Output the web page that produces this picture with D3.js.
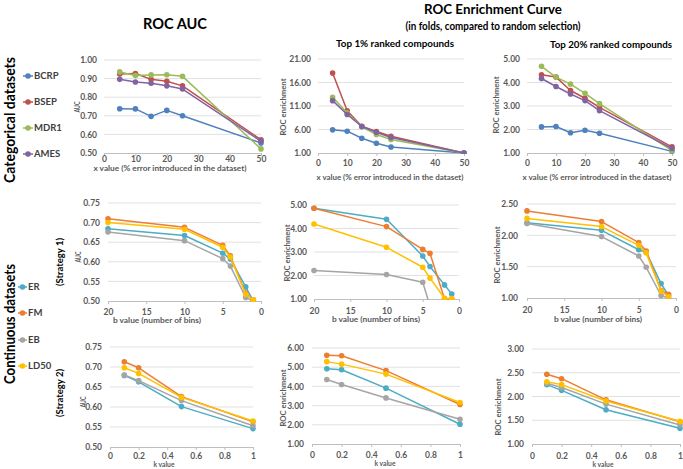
<!DOCTYPE html>
<html><head><meta charset="utf-8">
<script src="https://cdn.jsdelivr.net/npm/d3@7"></script>
<style>
body{margin:0;background:#fff}
svg{display:block;font-family:Lato,"Open Sans",sans-serif;font-weight:bold}
</style></head><body>
<svg id="c" width="683" height="469"></svg>
<script>
// ---------- data ----------
const errorPct = [5, 10, 15, 20, 25, 50];
const bins = [20, 10, 5, 4, 2, 1];
const kVals = [0.1, 0.2, 0.5, 1];
const catNames = ["BCRP", "BSEP", "MDR1", "AMES"];
const contNames = ["ER", "FM", "EB", "LD50"];
const catColors = ["#4F81BD", "#C0504D", "#9BBB59", "#8064A2"];
const contColors = ["#4BACC6", "#ED7D31", "#A5A5A5", "#FFC000"];

const catAUC = [
  [0.738, 0.737, 0.697, 0.729, 0.700, 0.554],
  [0.925, 0.927, 0.896, 0.886, 0.861, 0.571],
  [0.936, 0.917, 0.920, 0.921, 0.912, 0.522],
  [0.896, 0.882, 0.875, 0.861, 0.844, 0.563]];
const catTop1 = [
  [5.93, 5.64, 4.14, 3.07, 2.29, 1.00],
  [18.0, 10.0, 6.70, 5.57, 4.57, 1.00],
  [12.86, 9.57, 6.57, 4.93, 3.86, 1.00],
  [12.14, 9.20, 6.64, 5.43, 4.30, 1.00]];
const catTop20 = [
  [2.11, 2.13, 1.86, 1.97, 1.84, 1.07],
  [4.33, 4.23, 3.66, 3.33, 2.94, 1.26],
  [4.69, 4.23, 3.93, 3.54, 3.10, 1.10],
  [4.17, 3.83, 3.51, 3.23, 2.80, 1.19]];
const s1AUC = [
  [0.684, 0.667, 0.622, 0.607, 0.536, 0.500],
  [0.710, 0.688, 0.642, 0.615, 0.520, 0.503],
  [0.676, 0.654, 0.608, 0.589, 0.509, 0.500],
  [0.700, 0.683, 0.637, 0.612, 0.517, 0.503]];
const s1Top1 = [
  [4.86, 4.39, 2.83, 2.38, 1.60, 1.21],
  [4.86, 4.08, 3.11, 2.94, 1.01, 1.01],
  [2.21, 2.04, 1.71, 0.70, 0.60, 0.60],
  [4.19, 3.20, 2.35, 1.89, 1.03, 1.02]];
const s1Top20 = [
  [2.20, 2.08, 1.77, 1.73, 1.23, 1.04],
  [2.39, 2.22, 1.885, 1.75, 1.12, 1.06],
  [2.19, 1.98, 1.67, 1.49, 1.04, 1.00],
  [2.27, 2.14, 1.84, 1.72, 1.11, 1.02]];
const s2AUC = [
  [0.679, 0.663, 0.601, 0.546],
  [0.713, 0.698, 0.626, 0.563],
  [0.680, 0.666, 0.616, 0.553],
  [0.698, 0.684, 0.624, 0.565]];
const s2Top1 = [
  [4.92, 4.87, 3.91, 2.03],
  [5.62, 5.60, 4.82, 3.06],
  [4.36, 4.10, 3.40, 2.29],
  [5.29, 5.16, 4.64, 3.16]];
const s2Top20 = [
  [2.25, 2.13, 1.72, 1.33],
  [2.47, 2.375, 1.93, 1.47],
  [2.28, 2.19, 1.84, 1.40],
  [2.31, 2.25, 1.905, 1.477]];

// tick labels
const errTicks = [0, 10, 20, 30, 40, 50];
const binTicks = [20, 15, 10, 5, 0];
const kTicks = [0, 0.2, 0.4, 0.6, 0.8, 1];
const catAUCTicks = [0.5, 0.6, 0.7, 0.8, 0.9, 1.0];
const catTop1Ticks = [1, 6, 11, 16, 21];
const catTop20Ticks = [1, 2, 3, 4, 5];
const contAUCTicks = [0.5, 0.55, 0.6, 0.65, 0.7, 0.75];
const s1Top1Ticks = [1, 2, 3, 4, 5];
const s1Top20Ticks = [1, 1.5, 2, 2.5];
const s2Top1Ticks = [1, 2, 3, 4, 5, 6];
const s2Top20Ticks = [1, 1.5, 2, 2.5, 3];

// ---------- drawing ----------
const svg = d3.select("#c");
svg.append("rect").attr("width", 683).attr("height", 469).attr("fill", "#fff");
let clipId = 0;

function panel(p) {
  const g = svg.append("g");
  const x = d3.scaleLinear().domain(p.xd).range([p.x0, p.x1]);
  const y = d3.scaleLinear().domain([p.yt[0], p.yt[p.yt.length - 1]]).range([p.yb, p.ytop]);

  // gridlines
  g.append("g").selectAll("line").data(p.yt.slice(1)).join("line")
    .attr("x1", p.x0).attr("x2", p.x1)
    .attr("y1", d => y(d)).attr("y2", d => y(d))
    .attr("stroke", "#D9D9D9").attr("stroke-width", 0.8);

  // y axis labels
  const ya = g.append("g").attr("transform", `translate(${p.ylr},0)`)
    .call(d3.axisLeft(y).tickValues(p.yt).tickFormat(d3.format(".2f")).tickSize(0).tickPadding(0));
  ya.select(".domain").remove();
  ya.selectAll("text").attr("font-size", 8.5).attr("fill", "#595959")
    .attr("font-family", "Lato, sans-serif").attr("font-weight", "bold");

  // x axis
  const xa = g.append("g").attr("transform", `translate(0,${p.yb})`)
    .call(d3.axisBottom(x).tickValues(p.xt).tickFormat(d3.format("~g")).tickSizeInner(3).tickSizeOuter(0));
  xa.select(".domain").attr("stroke", "#BFBFBF").attr("stroke-width", 1);
  xa.selectAll(".tick line").attr("stroke", "#BFBFBF");
  xa.selectAll("text").attr("y", p.xly - p.yb).attr("dy", "0.35em")
    .attr("font-size", 8.5).attr("fill", "#595959")
    .attr("font-family", "Lato, sans-serif").attr("font-weight", "bold");

  // titles
  g.append("text").attr("x", p.xtc).attr("y", p.xty).attr("dy", "0.35em")
    .attr("text-anchor", "middle").attr("font-size", 7.5).attr("fill", "#595959")
    .attr("textLength", p.xtl).attr("lengthAdjust", "spacingAndGlyphs").text(p.xTitle);
  g.append("text").attr("transform", `translate(${p.ytx},${p.ytc}) rotate(-90)`).attr("dy", "0.35em")
    .attr("text-anchor", "middle").attr("font-size", 7.5).attr("fill", "#595959")
    .attr("textLength", p.ytl).attr("lengthAdjust", "spacingAndGlyphs").text(p.yTitle);

  // clip
  const id = "clip" + (clipId++);
  g.append("clipPath").attr("id", id).append("rect")
    .attr("x", p.x0 - 6).attr("y", p.ytop - 6)
    .attr("width", p.x1 - p.x0 + 12).attr("height", p.yb - p.ytop + 7);

  const line = d3.line().x((d, i) => x(p.xs[i])).y(d => y(d));
  const lo = p.yt[0] - 1e-9;
  p.series.forEach((vals, si) => {
    const sg = g.append("g").attr("clip-path", `url(#${id})`);
    sg.append("path").attr("d", line(vals)).attr("fill", "none")
      .attr("stroke", p.colors[si]).attr("stroke-width", 1.5).attr("stroke-linejoin", "round");
    sg.selectAll("circle").data(vals.map((v, i) => [p.xs[i], v]).filter(d => d[1] >= lo))
      .join("circle").attr("cx", d => x(d[0])).attr("cy", d => y(d[1])).attr("r", 2.8)
      .attr("fill", p.colors[si]);
  });
}

const xErrTitle = "x value (% error introduced in the dataset)";
const bTitle = "b value (number of bins)";
const kTitle = "k value";

panel({xd:[0,50], x0:104, x1:261, ytop:60, yb:153, xt:errTicks, yt:catAUCTicks, xs:errorPct,
  series:catAUC, colors:catColors, ylr:97, xly:159, xTitle:xErrTitle, xtc:170, xty:168, xtl:153,
  yTitle:"AUC", ytx:77, ytc:107, ytl:11});
panel({xd:[0,50], x0:318, x1:464, ytop:59, yb:153, xt:errTicks, yt:catTop1Ticks, xs:errorPct,
  series:catTop1, colors:catColors, ylr:311, xly:163, xTitle:xErrTitle, xtc:390, xty:177, xtl:147,
  yTitle:"ROC enrichment", ytx:283, ytc:107, ytl:57});
panel({xd:[0,50], x0:527, x1:672, ytop:59, yb:153, xt:errTicks, yt:catTop20Ticks, xs:errorPct,
  series:catTop20, colors:catColors, ylr:520, xly:163, xTitle:xErrTitle, xtc:597, xty:177, xtl:149,
  yTitle:"ROC enrichment", ytx:496, ytc:105, ytl:57});

panel({xd:[20,0], x0:108, x1:261, ytop:203, yb:301, xt:binTicks, yt:contAUCTicks, xs:bins,
  series:s1AUC, colors:contColors, ylr:100, xly:312, xTitle:bTitle, xtc:157, xty:320, xtl:88,
  yTitle:"AUC", ytx:78, ytc:257, ytl:11});
panel({xd:[20,0], x0:314, x1:459, ytop:205, yb:299, xt:binTicks, yt:s1Top1Ticks, xs:bins,
  series:s1Top1, colors:contColors, ylr:307, xly:311, xTitle:bTitle, xtc:376, xty:319, xtl:88,
  yTitle:"ROC enrichment", ytx:287, ytc:253, ytl:57});
panel({xd:[20,0], x0:527, x1:676, ytop:204, yb:298, xt:binTicks, yt:s1Top20Ticks, xs:bins,
  series:s1Top20, colors:contColors, ylr:518, xly:310, xTitle:bTitle, xtc:598, xty:319, xtl:88,
  yTitle:"ROC enrichment", ytx:497, ytc:255, ytl:57});

panel({xd:[0,1], x0:110, x1:253, ytop:347, yb:447, xt:kTicks, yt:contAUCTicks, xs:kVals,
  series:s2AUC, colors:contColors, ylr:102, xly:456, xTitle:kTitle, xtc:164, xty:464, xtl:21,
  yTitle:"AUC", ytx:83, ytc:402, ytl:11});
panel({xd:[0,1], x0:312, x1:460, ytop:348, yb:444, xt:kTicks, yt:s2Top1Ticks, xs:kVals,
  series:s2Top1, colors:contColors, ylr:304, xly:455, xTitle:kTitle, xtc:385, xty:463, xtl:21,
  yTitle:"ROC enrichment", ytx:283, ytc:398, ytl:57});
panel({xd:[0,1], x0:532, x1:680, ytop:349, yb:444, xt:kTicks, yt:s2Top20Ticks, xs:kVals,
  series:s2Top20, colors:contColors, ylr:524, xly:456, xTitle:kTitle, xtc:603, xty:464, xtl:21,
  yTitle:"ROC enrichment", ytx:498, ytc:407, ytl:57});

// legends
function legend(names, colors, ys, lx0, lx1, tx) {
  const g = svg.append("g");
  names.forEach((n, i) => {
    g.append("line").attr("x1", lx0).attr("x2", lx1).attr("y1", ys[i]).attr("y2", ys[i])
      .attr("stroke", colors[i]).attr("stroke-width", 1.5);
    g.append("circle").attr("cx", (lx0 + lx1) / 2).attr("cy", ys[i]).attr("r", 2.8).attr("fill", colors[i]);
    g.append("text").attr("x", tx).attr("y", ys[i]).attr("dy", "0.35em")
      .attr("font-size", 9.5).attr("fill", "#404040").text(n);
  });
}
legend(catNames, catColors, [76, 102, 128, 154], 23, 33, 34);
legend(contNames, contColors, [287, 313, 340, 366], 18, 27, 28);

// headers
function txt(t, x, y, size, len, rot) {
  const e = svg.append("text").attr("text-anchor", "middle").attr("dy", "0.35em")
    .attr("font-size", size).attr("fill", "#000").text(t);
  if (rot) e.attr("transform", `translate(${x},${y}) rotate(-90)`);
  else e.attr("x", x).attr("y", y);
  if (len) e.attr("textLength", len).attr("lengthAdjust", "spacingAndGlyphs");
}
txt("ROC AUC", 175, 24, 15, 64);
txt("ROC Enrichment Curve", 493, 9, 14, 138);
txt("(in folds, compared to random selection)", 493, 26, 10.5, 175);
txt("Top 1%  ranked compounds", 395, 43, 10, 118);
txt("Top 20%  ranked compounds", 611, 44, 10, 122);
txt("Categorical datasets", 10, 120, 15, 126, true);
txt("Continuous datasets", 10, 324, 15, 120, true);
txt("(Strategy 1)", 60, 262, 9, 48, true);
txt("(Strategy 2)", 60, 393, 9, 48, true);
</script>
</body></html>
